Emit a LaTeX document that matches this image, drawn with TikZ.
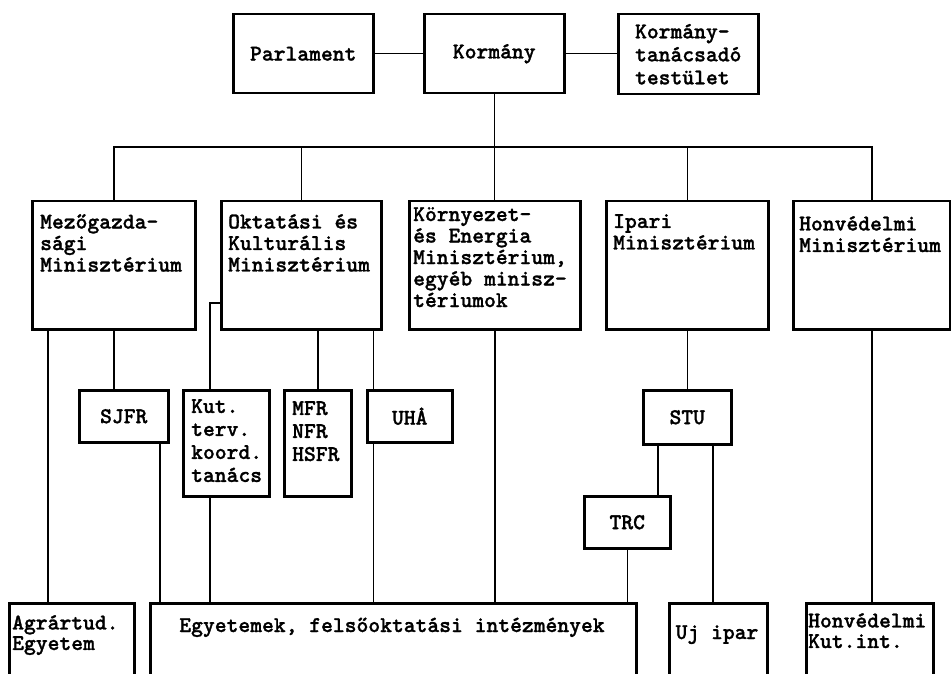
\documentclass[tikz,border=0pt]{standalone}
\usepackage{fontspec}
% heavy typewriter face for all labels
\newfontfamily\typew{lmmonolt10-bold.otf}[FakeBold=1.2]
\newcommand\orgfont{\typew\fontsize{22.5}{21.5}\selectfont}
\newcommand\orgfontwide{\typew\fontsize{22.5}{23}\selectfont}
\newcommand\orgfonttight{\typew\fontsize{22.5}{20.5}\selectfont}
\begin{document}
\begin{tikzpicture}[x=1pt,y=-1pt,
  box/.style={draw, line width=2.5pt, inner sep=0pt, anchor=north west, font=\orgfont},
  txt/.style={inner sep=0pt, align=left, anchor=north west, font=\orgfont},
  link/.style={line width=1.5pt},
]
\path[fill=white, use as bounding box] (0,0) rectangle (951,674);
\clip (0,0) rectangle (951,674);

% --- top level -------------------------------------------------------
\node[box, minimum width=140, minimum height=79] (parl) at (232,13) {Parlament};
\node[box, minimum width=140, minimum height=79] (korm) at (423,13) {Kormány};
\node[box, minimum width=140, minimum height=80, align=left, font=\orgfontwide]
  (tanacs) at (617,13) {Kormány-\\tanácsadó\\testület};

% --- ministries --------------------------------------------------------
\node[box, minimum width=163, minimum height=128] (mezo) at (31,200) {};
\node[txt] (mezo-t) at (40,214) {Mezőgazda-\\sági\\Minisztérium};
\node[box, minimum width=160, minimum height=128] (okt) at (220,200) {};
\node[txt] (okt-t) at (228,214) {Oktatási és\\Kulturális\\Minisztérium};
\node[box, minimum width=171, minimum height=128] (korny) at (408,200) {};
\node[txt] (korny-t) at (413,207) {Környezet-\\és Energia\\Minisztérium,\\egyéb minisz-\\tériumok};
\node[box, minimum width=162, minimum height=128] (ipari) at (605,200) {};
\node[txt] (ipari-t) at (613,214) {Ipari\\Minisztérium};
\node[box, minimum width=157, minimum height=128] (honv) at (792,200) {};
\node[txt] (honv-t) at (799,216) {Honvédelmi\\Minisztérium};

% --- councils and agencies --------------------------------------------
\node[box, minimum width=89, minimum height=52] (sjfr) at (78,389) {SJFR};
\node[box, minimum width=86, minimum height=106] (kut) at (182,389) {};
\node[txt, font=\orgfontwide] (kut-t) at (191,399) {Kut.\\terv.\\koord.\\tanács};
\node[box, minimum width=67, minimum height=106] (mfr) at (283,389) {};
\node[txt, font=\orgfontwide] (mfr-t) at (292,401) {MFR\\NFR\\HSFR};
\node[box, minimum width=85, minimum height=52] (uha) at (366,389) {UHÅ};
\node[box, minimum width=88, minimum height=54] (stu) at (642,389) {STU};
\node[box, minimum width=86, minimum height=52] (trc) at (583,495) {TRC};

% --- research performers (open at the bottom) -------------------------
\node[box, minimum width=125, minimum height=100] (agrar) at (8,602) {};
\node[txt, font=\orgfonttight] (agrar-t) at (12,615) {Agrártud.\\Egyetem};
\node[box, minimum width=486, minimum height=100] (egyet) at (149,602) {};
\node[txt, anchor=base] (egyet-t) at (392,632) {Egyetemek, felsőoktatási intézmények};
\node[box, minimum width=98, minimum height=100] (ujipar) at (668,602) {};
\node[txt, anchor=base] (ujipar-t) at (717,639) {Uj ipar};
\node[box, minimum width=127, minimum height=100] (hkut) at (805,602) {};
\node[txt, font=\orgfonttight] (hkut-t) at (808,613) {Honvédelmi\\Kut.int.};

% --- connectors ----------------------------------------------------------
\coordinate (bus) at (korm.south |- 0,147);
\draw[link] (parl.east) -- (parl.east -| korm.west);
\draw[link] (korm.east) -- (korm.east -| tanacs.west);
\draw[link] (korm.south) -- (korm.south |- korny.north);
\draw[link] (mezo.north) |- (bus) -| (honv.north);
\draw[link] (okt.north) -- (okt.north |- bus);
\draw[link] (ipari.north) -- (ipari.north |- bus);

\draw[link] (mezo.south) -- (mezo.south |- sjfr.north);
\draw[link] (mezo.south -| 48,0) -- (agrar.north -| 48,0);
\draw[link] (sjfr.south -| 160,0) -- (egyet.north -| 160,0);

\draw[link] (okt.west |- 0,303) -| (kut.north -| 210,0);
\draw[link] (kut.south -| 210,0) -- (egyet.north -| 210,0);
\draw[link] (mfr.north |- okt.south) -- (mfr.north);
\draw[link] (okt.south -| 373.5,0) -- (uha.north -| 373.5,0);
\draw[link] (uha.south -| 373.5,0) -- (egyet.north -| 373.5,0);

\draw[link] (korny.south) -- (korny.south |- egyet.north);
\draw[link] (ipari.south) -- (ipari.south |- stu.north);
\draw[link] (stu.south -| 658,0) -- (trc.north -| 658,0);
\draw[link] (stu.south -| 713,0) -- (ujipar.north -| 713,0);
\draw[link] (trc.south) -- (trc.south |- egyet.north);
\draw[link] (honv.south) -- (honv.south |- hkut.north);
\end{tikzpicture}
\end{document}
